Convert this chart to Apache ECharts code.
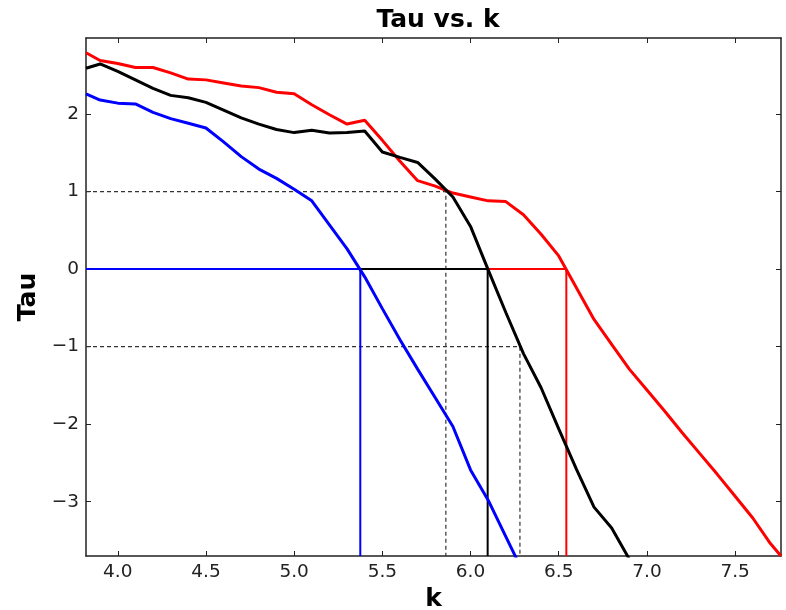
<!DOCTYPE html>
<html>
<head>
<meta charset="utf-8">
<script src="https://cdn.jsdelivr.net/npm/echarts@6/dist/echarts.min.js"></script>
<style>html,body{margin:0;padding:0;background:#fff;overflow:hidden}#c{width:786px;height:610px}</style>
</head>
<body>
<div id="c"></div>
<script>
// ---- data ----
const kValues = [3.82, 3.9, 4.0, 4.1, 4.2, 4.3, 4.4, 4.5, 4.6, 4.7, 4.8, 4.9, 5.0, 5.1, 5.2, 5.3, 5.4, 5.5, 5.6, 5.7, 5.8, 5.9, 6.0, 6.1, 6.2, 6.3, 6.4, 6.5, 6.6, 6.7, 6.8, 6.9, 7.0, 7.1, 7.2, 7.3, 7.4, 7.5, 7.6, 7.7, 7.76];
const tauRed = [2.79, 2.69, 2.65, 2.60, 2.60, 2.53, 2.45, 2.44, 2.40, 2.36, 2.34, 2.28, 2.26, 2.12, 1.99, 1.87, 1.92, 1.66, 1.39, 1.14, 1.07, 0.98, 0.93, 0.88, 0.87, 0.70, 0.45, 0.17, -0.24, -0.65, -0.97, -1.29, -1.56, -1.83, -2.11, -2.38, -2.65, -2.93, -3.21, -3.54, -3.70];
const tauBlack = [2.59, 2.645, 2.55, 2.44, 2.33, 2.24, 2.21, 2.15, 2.05, 1.95, 1.87, 1.80, 1.76, 1.79, 1.755, 1.76, 1.78, 1.51, 1.44, 1.375, 1.16, 0.93, 0.55, -0.01, -0.56, -1.09, -1.53, -2.06, -2.58, -3.07, -3.34, -3.74];
const tauBlue = [2.26, 2.18, 2.14, 2.13, 2.02, 1.94, 1.88, 1.82, 1.64, 1.45, 1.29, 1.17, 1.03, 0.88, 0.57, 0.26, -0.10, -0.51, -0.91, -1.29, -1.66, -2.03, -2.59, -2.98, -3.45, -3.92];
// zero crossings (blue, black, red)
const zeroCrossK = [5.375, 6.097, 6.543];
// black curve crossings of tau = +1 and tau = -1
const levelTau = [1, -1];
const levelCrossK = [5.86, 6.28];
const xTicks = [4.0, 4.5, 5.0, 5.5, 6.0, 6.5, 7.0, 7.5];
const yTicks = [-3, -2, -1, 0, 1, 2];
const xRange = [3.82, 7.76];
const yRange = [-3.70, 2.98];

// ---- chart ----
const FONT = 'DejaVu Sans';
const pairs = vals => vals.map((v, i) => [kValues[i], v]);
const curve = (name, vals, color) => ({
  name, type: 'line', data: pairs(vals), showSymbol: false, clip: true,
  lineStyle: { color, width: 3 }, itemStyle: { color }, animation: false, z: 3
});
const refLine = (k, tau, color, width, type) => ({
  type: 'line', showSymbol: false, clip: true, animation: false, z: 2,
  data: [[xRange[0], tau], [k, tau], [k, yRange[0]]],
  lineStyle: { color, width, type }
});
const colors = ['#0000ff', '#000000', '#ff0000'];

const axisCommonX = {
  type: 'value', min: xRange[0], max: xRange[1],
  splitLine: { show: false },
  axisLine: { show: true, onZero: false, lineStyle: { color: '#222', width: 1.5 } },
  axisTick: { show: true, inside: true, length: 5, customValues: xTicks, lineStyle: { color: '#222', width: 1 } }
};
const axisCommonY = {
  type: 'value', min: yRange[0], max: yRange[1],
  splitLine: { show: false },
  axisLine: { show: true, onZero: false, lineStyle: { color: '#222', width: 1.5 } },
  axisTick: { show: true, inside: true, length: 5, customValues: yTicks, lineStyle: { color: '#222', width: 1 } }
};

const chart = echarts.init(document.getElementById('c'), null, { renderer: 'canvas' });
chart.setOption({
  backgroundColor: '#fff',
  animation: false,
  title: {
    text: 'Tau vs. k', left: 433, top: 3, textAlign: 'center',
    textStyle: { fontFamily: FONT, fontWeight: 'bold', fontSize: 25, color: '#000' }
  },
  grid: { left: 86, right: 5, top: 38, bottom: 54, containLabel: false, outerBoundsMode: 'none' },
  xAxis: [
    Object.assign({}, axisCommonX, {
      position: 'bottom', name: 'k', nameLocation: 'middle', nameGap: 27,
      nameTextStyle: { fontFamily: FONT, fontWeight: 'bold', fontSize: 25, color: '#000' },
      axisLabel: { show: true, customValues: xTicks, margin: 7, fontFamily: FONT, fontSize: 18.5, color: '#222',
        formatter: v => v.toFixed(1) }
    }),
    Object.assign({}, axisCommonX, { position: 'top', axisLabel: { show: false } })
  ],
  yAxis: [
    Object.assign({}, axisCommonY, {
      position: 'left', name: 'Tau', nameLocation: 'middle', nameGap: 41,
      nameTextStyle: { fontFamily: FONT, fontWeight: 'bold', fontSize: 25, color: '#000' },
      axisLabel: { show: true, customValues: yTicks, margin: 7, fontFamily: FONT, fontSize: 18.5, color: '#222',
        formatter: v => String(v).replace('-', '\u2212') }
    }),
    Object.assign({}, axisCommonY, { position: 'right', axisLabel: { show: false } })
  ],
  series: [
    refLine(levelCrossK[0], levelTau[0], '#333', 1.2, [4, 3]),
    refLine(levelCrossK[1], levelTau[1], '#333', 1.2, [4, 3]),
    refLine(zeroCrossK[2], 0, colors[2], 2),
    refLine(zeroCrossK[1], 0, colors[1], 2),
    refLine(zeroCrossK[0], 0, colors[0], 2),
    curve('red', tauRed, colors[2]),
    curve('black', tauBlack, colors[1]),
    curve('blue', tauBlue, colors[0])
  ]
});
</script>
</body>
</html>
